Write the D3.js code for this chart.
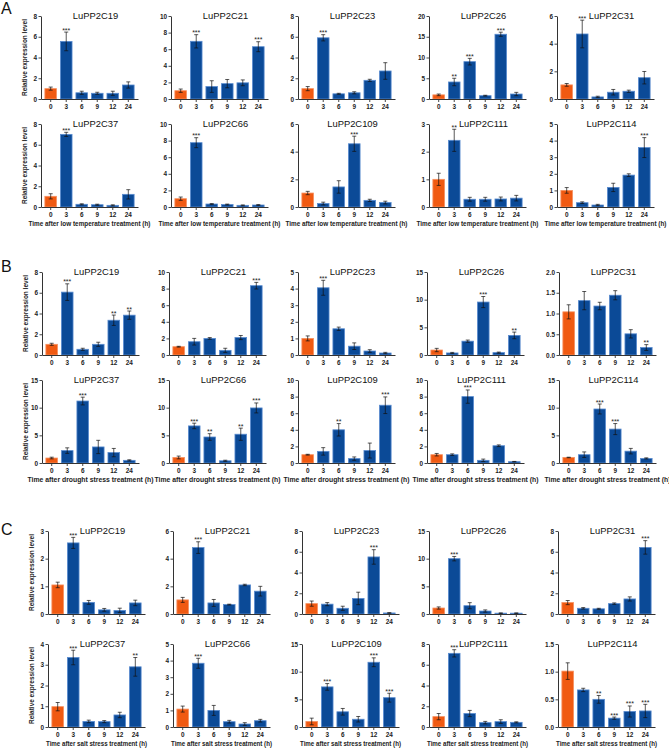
<!DOCTYPE html>
<html>
<head>
<meta charset="utf-8">
<script src="https://cdn.jsdelivr.net/npm/d3@7"></script>
<style>
	body { margin: 0; background: #fff; }
	text { font-family: "Liberation Sans", Arial, sans-serif; }
</style>
</head>
<body>
<svg id="fig" width="669" height="750"></svg>
<script>
// time points and genes shared by all panels
var times = ['0', '3', '6', '9', '12', '24'];
var genes = ['LuPP2C19', 'LuPP2C21', 'LuPP2C23', 'LuPP2C26', 'LuPP2C31',
             'LuPP2C37', 'LuPP2C66', 'LuPP2C109', 'LuPP2C111', 'LuPP2C114'];

// A - low temperature
var coldMean = [
	[1.0, 5.55, 0.6, 0.55, 0.55, 1.35],
	[1.0, 6.95, 1.5, 1.85, 1.95, 6.3],
	[1.0, 5.9, 0.5, 0.6, 1.8, 2.7],
	[1.0, 4.1, 9.0, 0.8, 15.6, 1.2],
	[1.02, 4.7, 0.15, 0.49, 0.56, 1.54],
	[1.03, 7.0, 0.26, 0.22, 0.16, 1.22],
	[1.0, 7.75, 0.36, 0.3, 0.2, 0.24],
	[1.01, 0.25, 1.45, 4.57, 0.48, 0.32],
	[1.0, 2.41, 0.28, 0.28, 0.29, 0.32],
	[1.0, 0.26, 0.12, 1.18, 1.92, 3.58]
];
var coldErr = [
	[0.15, 0.9, 0.15, 0.1, 0.2, 0.3],
	[0.2, 0.8, 0.7, 0.5, 0.35, 0.6],
	[0.2, 0.3, 0.05, 0.1, 0.1, 0.8],
	[0.2, 0.9, 0.8, 0.1, 0.5, 0.4],
	[0.1, 1.0, 0.05, 0.2, 0.08, 0.45],
	[0.25, 0.2, 0.05, 0.05, 0.05, 0.45],
	[0.2, 0.6, 0.05, 0.05, 0.05, 0.05],
	[0.12, 0.1, 0.45, 0.55, 0.08, 0.1],
	[0.22, 0.4, 0.07, 0.07, 0.07, 0.1],
	[0.17, 0.05, 0.04, 0.25, 0.08, 0.6]
];
var coldStars = [
	['', '***', '', '', '', ''],
	['', '***', '', '', '', '***'],
	['', '***', '', '', '', ''],
	['', '**', '***', '', '***', ''],
	['', '***', '', '', '', ''],
	['', '***', '', '', '', ''],
	['', '***', '', '', '', ''],
	['', '', '', '***', '', ''],
	['', '**', '', '', '', ''],
	['', '', '', '', '', '***']
];
var coldYMax  = [8, 10, 8, 20, 6, 8, 10, 6, 3, 5];
var coldYStep = [2, 2, 2, 5, 2, 2, 2, 2, 1, 1];

// B - drought
var droughtMean = [
	[1.03, 6.06, 0.55, 1.03, 3.35, 3.84],
	[1.0, 1.6, 2.0, 0.56, 2.1, 8.35],
	[1.0, 4.05, 1.58, 0.53, 0.24, 0.12],
	[0.9, 0.37, 2.5, 9.57, 0.43, 3.54],
	[1.04, 1.31, 1.18, 1.44, 0.51, 0.18],
	[0.9, 2.24, 11.2, 2.9, 1.88, 0.48],
	[1.0, 6.7, 4.7, 0.4, 5.2, 9.95],
	[1.0, 1.4, 4.0, 0.53, 1.5, 6.96],
	[1.0, 1.0, 8.0, 0.32, 2.08, 0.16],
	[1.0, 1.5, 9.76, 6.13, 2.14, 0.83]
];
var droughtErr = [
	[0.1, 0.8, 0.1, 0.2, 0.5, 0.4],
	[0.05, 0.4, 0.1, 0.25, 0.25, 0.4],
	[0.15, 0.45, 0.1, 0.2, 0.08, 0.04],
	[0.3, 0.1, 0.2, 1.0, 0.1, 0.6],
	[0.17, 0.22, 0.09, 0.11, 0.1, 0.07],
	[0.15, 0.5, 0.7, 1.2, 0.75, 0.1],
	[0.25, 0.5, 0.6, 0.1, 1.1, 0.9],
	[0.05, 0.45, 0.75, 0.2, 0.9, 1.0],
	[0.15, 0.1, 0.8, 0.15, 0.1, 0.03],
	[0.05, 0.5, 0.9, 1.0, 0.5, 0.1]
];
var droughtStars = [
	['', '***', '', '', '**', '**'],
	['', '', '', '', '', '***'],
	['', '***', '', '', '', ''],
	['', '', '', '***', '', '**'],
	['', '', '', '', '', '**'],
	['', '', '***', '', '', ''],
	['', '***', '**', '', '**', '***'],
	['', '', '**', '', '', '***'],
	['', '', '***', '', '', ''],
	['', '', '***', '***', '', '']
];
var droughtYMax  = [8, 10, 5, 15, 2, 15, 15, 10, 10, 15];
var droughtYStep = [2, 2, 1, 5, 0.5, 5, 5, 2, 2, 5];

// C - salt
var saltMean = [
	[1.05, 2.57, 0.42, 0.15, 0.13, 0.4],
	[1.02, 4.8, 0.8, 0.68, 2.1, 1.65],
	[1.0, 0.95, 0.55, 1.5, 5.5, 0.1],
	[1.08, 10.0, 1.5, 0.54, 0.15, 0.15],
	[1.1, 0.55, 0.5, 1.0, 1.45, 6.42],
	[0.98, 3.35, 0.27, 0.26, 0.58, 2.9],
	[1.08, 3.84, 1.0, 0.32, 0.18, 0.38],
	[1.0, 7.25, 2.75, 1.4, 11.7, 5.3],
	[1.0, 7.1, 1.3, 0.42, 0.52, 0.45],
	[1.01, 0.67, 0.5, 0.16, 0.28, 0.29]
];
var saltErr = [
	[0.1, 0.2, 0.07, 0.05, 0.08, 0.1],
	[0.18, 0.42, 0.25, 0.03, 0.05, 0.35],
	[0.25, 0.15, 0.2, 0.6, 0.7, 0.03],
	[0.2, 0.4, 0.55, 0.2, 0.05, 0.05],
	[0.2, 0.07, 0.05, 0.07, 0.2, 0.65],
	[0.2, 0.35, 0.06, 0.05, 0.13, 0.45],
	[0.18, 0.3, 0.3, 0.08, 0.08, 0.08],
	[0.6, 0.6, 0.6, 0.5, 0.8, 0.8],
	[0.3, 0.35, 0.3, 0.12, 0.18, 0.05],
	[0.15, 0.03, 0.07, 0.02, 0.1, 0.12]
];
var saltStars = [
	['', '***', '', '', '', ''],
	['', '***', '', '', '', ''],
	['', '', '', '', '***', ''],
	['', '***', '', '', '', ''],
	['', '', '', '', '', '***'],
	['', '***', '', '', '', '**'],
	['', '***', '', '', '', ''],
	['', '***', '', '', '***', '***'],
	['', '***', '', '', '', ''],
	['', '', '**', '***', '***', '***']
];
var saltYMax  = [3, 6, 8, 15, 8, 4, 5, 15, 8, 1.5];
var saltYStep = [1, 2, 2, 5, 2, 1, 1, 5, 2, 0.5];

// layout of the figure
var plotW = 97;
var orange = '#f05a12', orangeEdge = '#f79160',
    blue = '#0b4a97', blueEdge = '#5a8cd0';

var sections = [
	{ letter: 'A', ly: 14, mean: coldMean, err: coldErr, stars: coldStars, ymax: coldYMax, step: coldYStep,
	  colX: [41, 171, 298, 429, 557], rows: [[16, 99], [124, 207]],
	  xtitle: 'Time after low temperature treatment (h)', xtw: 122 },
	{ letter: 'B', ly: 272, mean: droughtMean, err: droughtErr, stars: droughtStars, ymax: droughtYMax, step: droughtYStep,
	  colX: [42, 169, 298, 427, 559], rows: [[272, 355], [380, 463]],
	  xtitle: 'Time after drought stress treatment (h)', xtw: 126 },
	{ letter: 'C', ly: 535, mean: saltMean, err: saltErr, stars: saltStars, ymax: saltYMax, step: saltYStep,
	  colX: [48, 173, 302, 429, 558], rows: [[531, 614], [644, 727]],
	  xtitle: 'Time after salt stress treatment (h)', xtw: 101 }
];

var svg = d3.select('#fig');

function styleAxis(sel) {
	sel.select('.domain').attr('stroke', '#333').attr('stroke-width', 1);
	sel.selectAll('.tick line').attr('stroke', '#333').attr('stroke-width', 0.9);
	sel.selectAll('.tick text')
	   .attr('fill', '#222')
	   .style('font-size', '6.4px')
	   .style('font-weight', 'bold')
	   .style('font-family', '"Liberation Sans", Arial, sans-serif');
}

function drawPanel(x0, y0, y1, gene, mean, err, stars, ymax, step, yLabel, xTitle, xtw) {
	var g = svg.append('g').attr('transform', 'translate(' + x0 + ',0)');

	var x = d3.scaleBand().domain(times).range([0, plotW])
	          .paddingInner(0.25).paddingOuter(0.25);
	var y = d3.scaleLinear().domain([0, ymax]).range([y1, y0]);
	var fmt = step < 1 ? d3.format('.1f') : d3.format('d');

	// title (drawn first so the marks sit on top)
	g.append('text')
	 .attr('x', plotW / 2 + 6)
	 .attr('y', y0 + 2.5)
	 .attr('text-anchor', 'middle')
	 .style('font-size', '9.4px')
	 .attr('fill', '#111')
	 .text(gene);

	// bars
	g.selectAll('rect.bar')
	 .data(times)
	 .enter().append('rect')
	 .attr('class', 'bar')
	 .attr('x', d => x(d))
	 .attr('width', x.bandwidth())
	 .attr('y', (d, i) => y(mean[i]))
	 .attr('height', (d, i) => y1 - y(mean[i]))
	 .attr('fill', (d, i) => i == 0 ? orange : blue)
	 .attr('stroke', (d, i) => i == 0 ? orangeEdge : blueEdge)
	 .attr('stroke-width', 0.8);

	// error bars
	var eb = g.selectAll('g.err')
	 .data(times)
	 .enter().append('g')
	 .attr('class', 'err')
	 .attr('transform', d => 'translate(' + (x(d) + x.bandwidth() / 2) + ',0)');
	eb.append('line')
	  .attr('y1', (d, i) => y(Math.max(0, mean[i] - err[i])))
	  .attr('y2', (d, i) => y(mean[i] + err[i]))
	  .attr('stroke', '#111').attr('stroke-width', 0.7);
	eb.append('line')
	  .attr('x1', -2).attr('x2', 2)
	  .attr('y1', (d, i) => y(mean[i] + err[i]))
	  .attr('y2', (d, i) => y(mean[i] + err[i]))
	  .attr('stroke', '#111').attr('stroke-width', 0.7);
	eb.append('line')
	  .attr('x1', -2).attr('x2', 2)
	  .attr('y1', (d, i) => y(Math.max(0, mean[i] - err[i])))
	  .attr('y2', (d, i) => y(Math.max(0, mean[i] - err[i])))
	  .attr('stroke', '#111').attr('stroke-width', 0.7);

	// significance marks
	eb.append('text')
	  .attr('y', (d, i) => y(mean[i] + err[i]) + 0.5)
	  .attr('text-anchor', 'middle')
	  .style('font-size', '7px')
	  .attr('fill', '#222')
	  .text((d, i) => stars[i]);

	// axes
	var ya = g.append('g')
	  .call(d3.axisLeft(y).tickValues(d3.range(0, ymax + step / 2, step))
	          .tickFormat(fmt).tickSize(2.5).tickSizeOuter(0).tickPadding(1.5));
	styleAxis(ya);
	var xa = g.append('g')
	  .attr('transform', 'translate(0,' + y1 + ')')
	  .call(d3.axisBottom(x).tickSize(3).tickSizeOuter(0).tickPadding(2.5));
	styleAxis(xa);

	if (yLabel) {
		g.append('text')
		 .attr('transform', 'translate(-14,' + (y0 + y1) / 2 + ') rotate(-90)')
		 .attr('text-anchor', 'middle')
		 .attr('textLength', 77).attr('lengthAdjust', 'spacingAndGlyphs')
		 .style('font-size', '6.8px')
		 .style('font-weight', 'bold')
		 .attr('fill', '#222')
		 .text('Relative expression level');
	}
	if (xTitle) {
		g.append('text')
		 .attr('x', plotW / 2)
		 .attr('y', y1 + 19)
		 .attr('text-anchor', 'middle')
		 .attr('textLength', xtw).attr('lengthAdjust', 'spacingAndGlyphs')
		 .style('font-size', '6.4px')
		 .style('font-weight', 'bold')
		 .attr('fill', '#222')
		 .text(xTitle);
	}
}

sections.forEach(function(s) {
	svg.append('text')
	   .attr('x', 1).attr('y', s.ly)
	   .style('font-size', '16px')
	   .attr('fill', '#111')
	   .text(s.letter);

	genes.forEach(function(gene, k) {
		var r = Math.floor(k / 5), c = k % 5;
		var row = s.rows[r];
		drawPanel(s.colX[c], row[0], row[1], gene,
		          s.mean[k], s.err[k], s.stars[k], s.ymax[k], s.step[k],
		          c == 0, r == 1 ? s.xtitle : null, s.xtw);
	});
});
</script>
</body>
</html>
